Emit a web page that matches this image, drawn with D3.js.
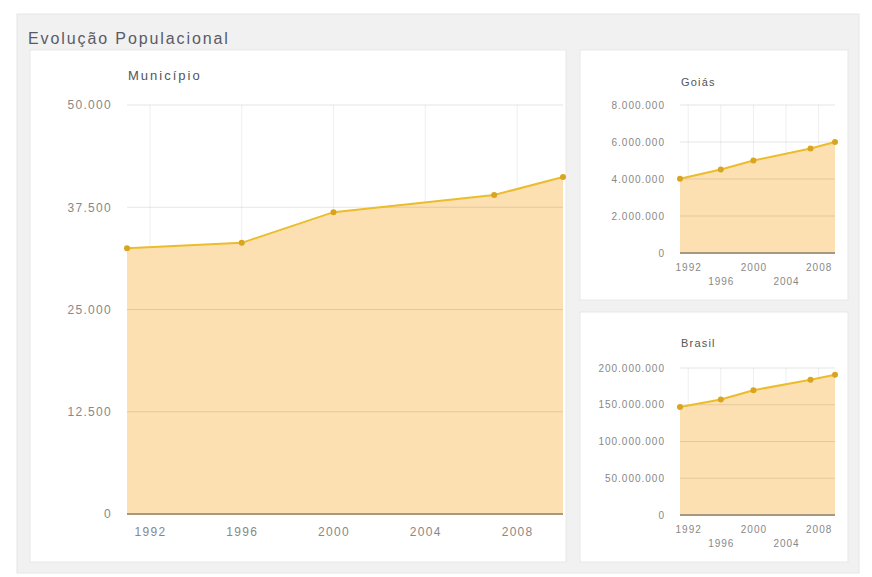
<!DOCTYPE html>
<html><head><meta charset="utf-8">
<script src="https://cdn.jsdelivr.net/npm/d3@7/dist/d3.min.js"></script>
<style>
html,body{margin:0;padding:0;background:#fff;}
svg{display:block;font-family:"Liberation Sans",Arial,sans-serif;}
</style></head>
<body>
<svg id="c" width="872" height="577"></svg>
<script>
const years = [1991, 1996, 2000, 2007, 2010];
const municipioValues = [32500, 33150, 36900, 39000, 41200];
const goiasValues = [4012562, 4514967, 5003228, 5647035, 6003788];
const brasilValues = [146825475, 157070163, 169799170, 183987291, 190755799];
const xTickYears = [1992, 1996, 2000, 2004, 2008];
const municipioTicks = [0, 12500, 25000, 37500, 50000];
const goiasTicks = [0, 2000000, 4000000, 6000000, 8000000];
const brasilTicks = [0, 50000000, 100000000, 150000000, 200000000];
const chartTitle = "Evolução Populacional";
const panelTitles = ["Município", "Goiás", "Brasil"];

const loc = d3.formatLocale({decimal: ",", thousands: ".", grouping: [3], currency: ["R$", ""]});
const fmt = loc.format(",.0f");

const svg = d3.select("#c");
svg.append("rect").attr("x", 17).attr("y", 14).attr("width", 842).attr("height", 559)
  .attr("fill", "#f1f1f1").attr("stroke", "#e6e6e6");
svg.append("text").attr("x", 28).attr("y", 44).text(chartTitle)
  .attr("font-size", 16).attr("fill", "#5a5a66").attr("letter-spacing", 1.9);

function panel(box, plot, values, ticks, title, stagger, opts) {
  svg.append("rect").attr("x", box[0]).attr("y", box[1]).attr("width", box[2] - box[0]).attr("height", box[3] - box[1])
    .attr("fill", "#fff").attr("stroke", "#e8e8e8");
  const x = d3.scaleLinear().domain([years[0], years[years.length - 1]]).range([plot[0], plot[1]]);
  const y = d3.scaleLinear().domain([ticks[0], ticks[ticks.length - 1]]).range([plot[3], plot[2]]);
  const g = svg.append("g");
  g.append("text").attr("x", plot[0] + 1).attr("y", opts.titleY).text(title)
    .attr("font-size", opts.titleSize).attr("fill", "#555").attr("letter-spacing", opts.titleLS);
  g.selectAll(".vg").data(xTickYears).join("line")
    .attr("x1", d => x(d)).attr("x2", d => x(d)).attr("y1", plot[2]).attr("y2", plot[3])
    .attr("stroke", "#efefef").attr("stroke-width", 1);
  const data = years.map((yr, i) => ({yr, v: values[i]}));
  g.append("path").datum(data)
    .attr("d", d3.area().x(d => x(d.yr)).y0(y(0)).y1(d => y(d.v)))
    .attr("fill", "#fde0b1");
  g.selectAll(".hg").data(ticks.slice(1)).join("line")
    .attr("x1", plot[0]).attr("x2", plot[1]).attr("y1", d => y(d)).attr("y2", d => y(d))
    .attr("stroke", "#000").attr("stroke-opacity", 0.1).attr("stroke-width", 1.2);
  g.append("line").attr("x1", plot[0]).attr("x2", plot[1]).attr("y1", y(0)).attr("y2", y(0))
    .attr("stroke", "#a89880").attr("stroke-width", 2);
  const yAxis = d3.axisLeft(y).tickValues(ticks).tickFormat(fmt).tickSize(0).tickPadding(opts.yPad);
  const ya = g.append("g").attr("transform", `translate(${plot[0]},0)`).call(yAxis);
  ya.select(".domain").remove();
  ya.selectAll("text").attr("font-size", opts.tickSize).attr("fill", "#888").attr("letter-spacing", opts.tickLS)
    .attr("font-family", '"Liberation Sans",Arial,sans-serif');
  const xAxis = d3.axisBottom(x).tickValues(xTickYears).tickFormat(d3.format("d")).tickSize(0).tickPadding(opts.xPad);
  const xa = g.append("g").attr("transform", `translate(0,${y(0)})`).call(xAxis);
  xa.select(".domain").remove();
  xa.selectAll("text").attr("font-size", opts.tickSize).attr("fill", "#888").attr("letter-spacing", opts.tickLS)
    .attr("font-family", '"Liberation Sans",Arial,sans-serif')
    .attr("dy", (d, i) => stagger && i % 2 === 1 ? "2.1em" : "0.71em");
  g.append("path").datum(data)
    .attr("d", d3.line().x(d => x(d.yr)).y(d => y(d.v)))
    .attr("fill", "none").attr("stroke", "#ebbd2c").attr("stroke-width", 2);
  g.selectAll(".pt").data(data).join("circle")
    .attr("cx", d => x(d.yr)).attr("cy", d => y(d.v)).attr("r", 3)
    .attr("fill", "#d9a520");
}

panel([30, 50, 566, 562], [127, 563, 105, 514], municipioValues, municipioTicks, panelTitles[0], false,
  {titleY: 80, titleSize: 13, titleLS: 2, tickSize: 12, tickLS: 1.3, yPad: 15, xPad: 13});
panel([580, 50, 848, 300], [680, 835, 105, 253], goiasValues, goiasTicks, panelTitles[1], true,
  {titleY: 86, titleSize: 11, titleLS: 1.2, tickSize: 10, tickLS: 1, yPad: 15, xPad: 11});
panel([580, 312, 848, 562], [680, 835, 368, 515], brasilValues, brasilTicks, panelTitles[2], true,
  {titleY: 347, titleSize: 11, titleLS: 1.2, tickSize: 10, tickLS: 1, yPad: 15, xPad: 11});
</script>
</body></html>
